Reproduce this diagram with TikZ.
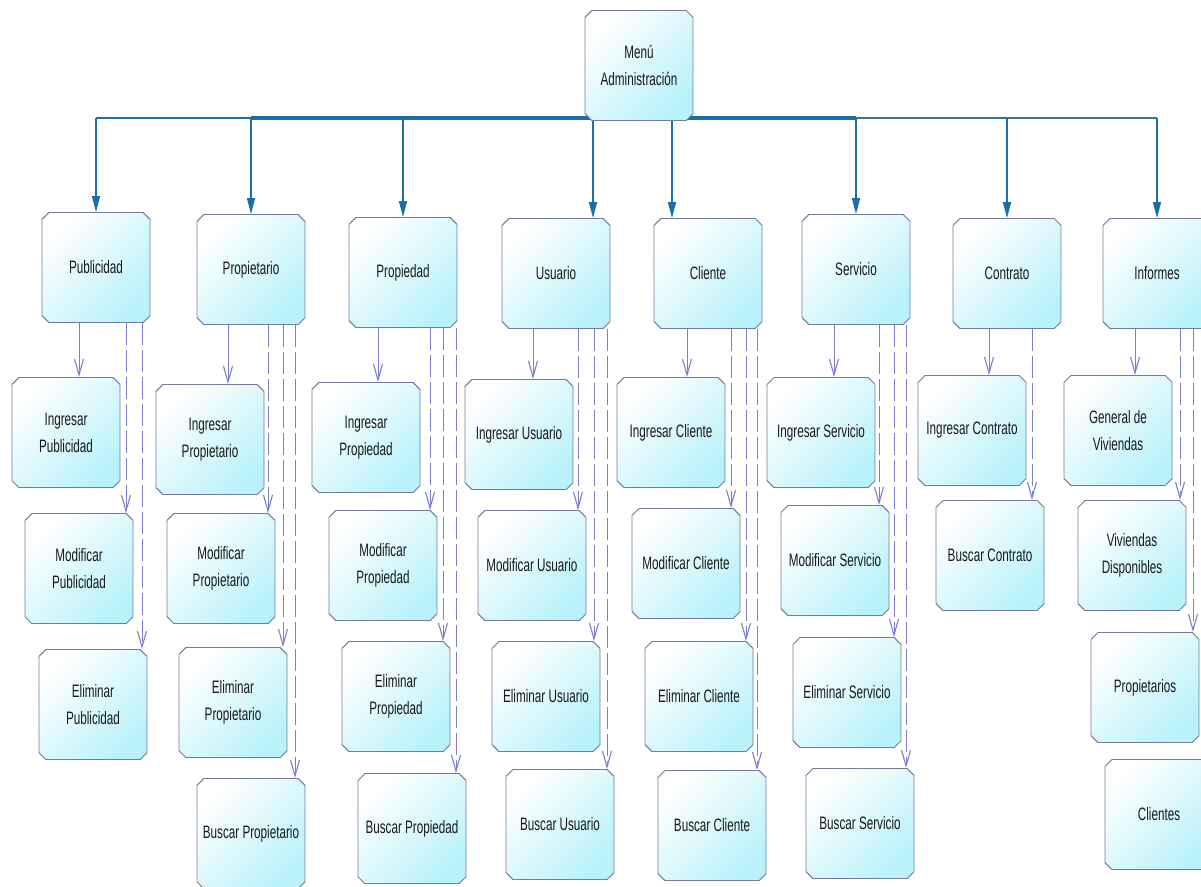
\documentclass[tikz,border=0pt]{standalone}
\usepackage{fontspec}
\newfontfamily\boxfont[FakeStretch=0.65]{Liberation Sans}
\usetikzlibrary{shapes.misc,arrows.meta}
\definecolor{boxfill}{RGB}{185,242,250}
\definecolor{boxline}{RGB}{120,122,155}
\definecolor{txtgray}{RGB}{25,25,25}
\definecolor{busblue}{RGB}{28,110,170}
\definecolor{busteal}{RGB}{55,120,135}
\definecolor{deplav}{RGB}{125,125,205}
\pgfdeclarelayer{background}
\pgfsetlayers{background,main}
\tikzset{
  menubox/.style={chamfered rectangle, chamfered rectangle xsep=4pt,
    draw=boxline, line width=0.9pt,
    top color=white, bottom color=boxfill, shading angle=45,
    minimum width=108pt, minimum height=110pt, inner sep=0pt,
    align=center, text=txtgray, font=\boxfont\fontsize{18}{27}\selectfont},
  busline/.style={draw=busblue, line width=4pt},
  busthin/.style={draw=busblue, line width=1.8pt},
  toparrow/.style={draw=busblue, line width=1.5pt, -{Triangle[length=16pt,width=8pt]}},
  subarrow/.style={draw=deplav, line width=0.9pt, -{Straight Barb[length=16pt,width=9pt,line width=1.1pt]}},
  dasharrow/.style={subarrow, dash pattern=on 22pt off 5pt}
}
\begin{document}
\begin{tikzpicture}[x=1pt,y=-1pt]
  \useasboundingbox (0,0) rectangle (1201,886);
  % menu principal
  \node[menubox] (menu) at (639,65.5) {Menú\\Administración};
  % primer nivel
  \node[menubox] (pub)  at (96,267.5)   {Publicidad};
  \node[menubox] (prop) at (251,269.5)  {Propietario};
  \node[menubox] (prd)  at (403,272.5)  {Propiedad};
  \node[menubox] (usu)  at (556,273.5)  {Usuario};
  \node[menubox] (cli)  at (708,273.5)  {Cliente};
  \node[menubox] (ser)  at (856,269.5)  {Servicio};
  \node[menubox] (con)  at (1007,273.5) {Contrato};
  \node[menubox] (inf)  at (1157,273.5) {Informes};
  % segundo nivel
  \node[menubox] (ingpub)   at (66,432.5)   {Ingresar\\Publicidad};
  \node[menubox] (modpub)   at (79,568.5)   {Modificar\\Publicidad};
  \node[menubox] (elimpub)  at (93,704.5)   {Eliminar\\Publicidad};
  \node[menubox] (ingprop)  at (210,439.5)  {Ingresar\\Propietario};
  \node[menubox] (modprop)  at (221,568.5)  {Modificar\\Propietario};
  \node[menubox] (elimprop) at (233,702.5)  {Eliminar\\Propietario};
  \node[menubox] (busprop)  at (251,833.5)  {Buscar Propietario};
  \node[menubox] (ingprd)   at (366,437.5)  {Ingresar\\Propiedad};
  \node[menubox] (modprd)   at (383,565.5)  {Modificar\\Propiedad};
  \node[menubox] (elimprd)  at (396,696.5)  {Eliminar\\Propiedad};
  \node[menubox] (busprd)   at (412,828.5)  {Buscar Propiedad};
  \node[menubox] (ingusu)   at (519,434.5)  {Ingresar Usuario};
  \node[menubox] (modusu)   at (532,565.5)  {Modificar Usuario};
  \node[menubox] (elimusu)  at (546,696.5)  {Eliminar Usuario};
  \node[menubox] (bususu)   at (560,824.5)  {Buscar Usuario};
  \node[menubox] (ingcli)   at (671,432.5)  {Ingresar Cliente};
  \node[menubox] (modcli)   at (686,563.5)  {Modificar Cliente};
  \node[menubox] (elimcli)  at (699,696.5)  {Eliminar Cliente};
  \node[menubox] (buscli)   at (712,825.5)  {Buscar Cliente};
  \node[menubox] (ingser)   at (821,432.5)  {Ingresar Servicio};
  \node[menubox] (modser)   at (835,560.5)  {Modificar Servicio};
  \node[menubox] (elimser)  at (847,692.5)  {Eliminar Servicio};
  \node[menubox] (busser)   at (860,823.5)  {Buscar Servicio};
  \node[menubox] (ingcon)   at (972,430.5)  {Ingresar Contrato};
  \node[menubox] (buscon)   at (990,555.5)  {Buscar Contrato};
  \node[menubox] (genviv)   at (1118,430.5) {General de\\Viviendas};
  \node[menubox] (vivdisp)  at (1132,555.5) {Viviendas\\Disponibles};
  \node[menubox] (propinf)  at (1145,687.5) {Propietarios};
  \node[menubox] (cliinf)   at (1159,814.5) {Clientes};
  \coordinate (bus) at (639,118);
  \begin{pgfonlayer}{background}
    % barra superior
    \draw[busthin] (pub.north |- bus) -- (prop.north |- bus);
    \draw[busline] (prop.north |- bus) -- (ser.north |- bus);
    \draw[busthin, draw=busteal] (ser.north |- bus) -- (inf.north |- bus);
    \begin{scope}[toparrow]
      \draw (pub.north |- bus) to (pub.north);
      \draw (prop.north |- bus) to (prop.north);
      \draw (prd.north |- bus) to (prd.north);
      \draw (menu.south -| 593,0) to (usu.north -| 593,0);
      \draw (menu.south -| 672,0) to (cli.north -| 672,0);
      \draw (ser.north |- bus) to (ser.north);
      \draw (con.north |- bus) to (con.north);
      \draw (inf.north |- bus) to (inf.north);
    \end{scope}
    % primer hijo
    \begin{scope}[subarrow]
      \draw (pub.south -| 79,0) to (ingpub.north -| 79,0);
      \draw (prop.south -| 228,0) to (ingprop.north -| 228,0);
      \draw (prd.south -| 378,0) to (ingprd.north -| 378,0);
      \draw (usu.south -| 533,0) to (ingusu.north -| 533,0);
      \draw (cli.south -| 687,0) to (ingcli.north -| 687,0);
      \draw (ser.south -| 834,0) to (ingser.north -| 834,0);
      \draw (con.south -| 989,0) to (ingcon.north -| 989,0);
      \draw (inf.south -| 1135,0) to (genviv.north -| 1135,0);
    \end{scope}
    % resto de hijos
    \begin{scope}[dasharrow]
      \draw (pub.south -| 126,0) to (modpub.north -| 126,0);
      \draw (pub.south -| 142,0) to (elimpub.north -| 142,0);
      \draw (prop.south -| 268,0) to (modprop.north -| 268,0);
      \draw (prop.south -| 283,0) to (elimprop.north -| 283,0);
      \draw (prop.south -| 295,0) to (busprop.north -| 295,0);
      \draw (prd.south -| 430,0) to (modprd.north -| 430,0);
      \draw (prd.south -| 443,0) to (elimprd.north -| 443,0);
      \draw (prd.south -| 456,0) to (busprd.north -| 456,0);
      \draw (usu.south -| 578,0) to (modusu.north -| 578,0);
      \draw (usu.south -| 594,0) to (elimusu.north -| 594,0);
      \draw (usu.south -| 607,0) to (bususu.north -| 607,0);
      \draw (cli.south -| 731,0) to (modcli.north -| 731,0);
      \draw (cli.south -| 746,0) to (elimcli.north -| 746,0);
      \draw (cli.south -| 757,0) to (buscli.north -| 757,0);
      \draw (ser.south -| 879,0) to (modser.north -| 879,0);
      \draw (ser.south -| 894,0) to (elimser.north -| 894,0);
      \draw (ser.south -| 906,0) to (busser.north -| 906,0);
      \draw (con.south -| 1032,0) to (buscon.north -| 1032,0);
      \draw (inf.south -| 1180,0) to (vivdisp.north -| 1180,0);
      \draw (inf.south -| 1193,0) to (propinf.north -| 1193,0);
    \end{scope}
  \end{pgfonlayer}
\end{tikzpicture}
\end{document}
